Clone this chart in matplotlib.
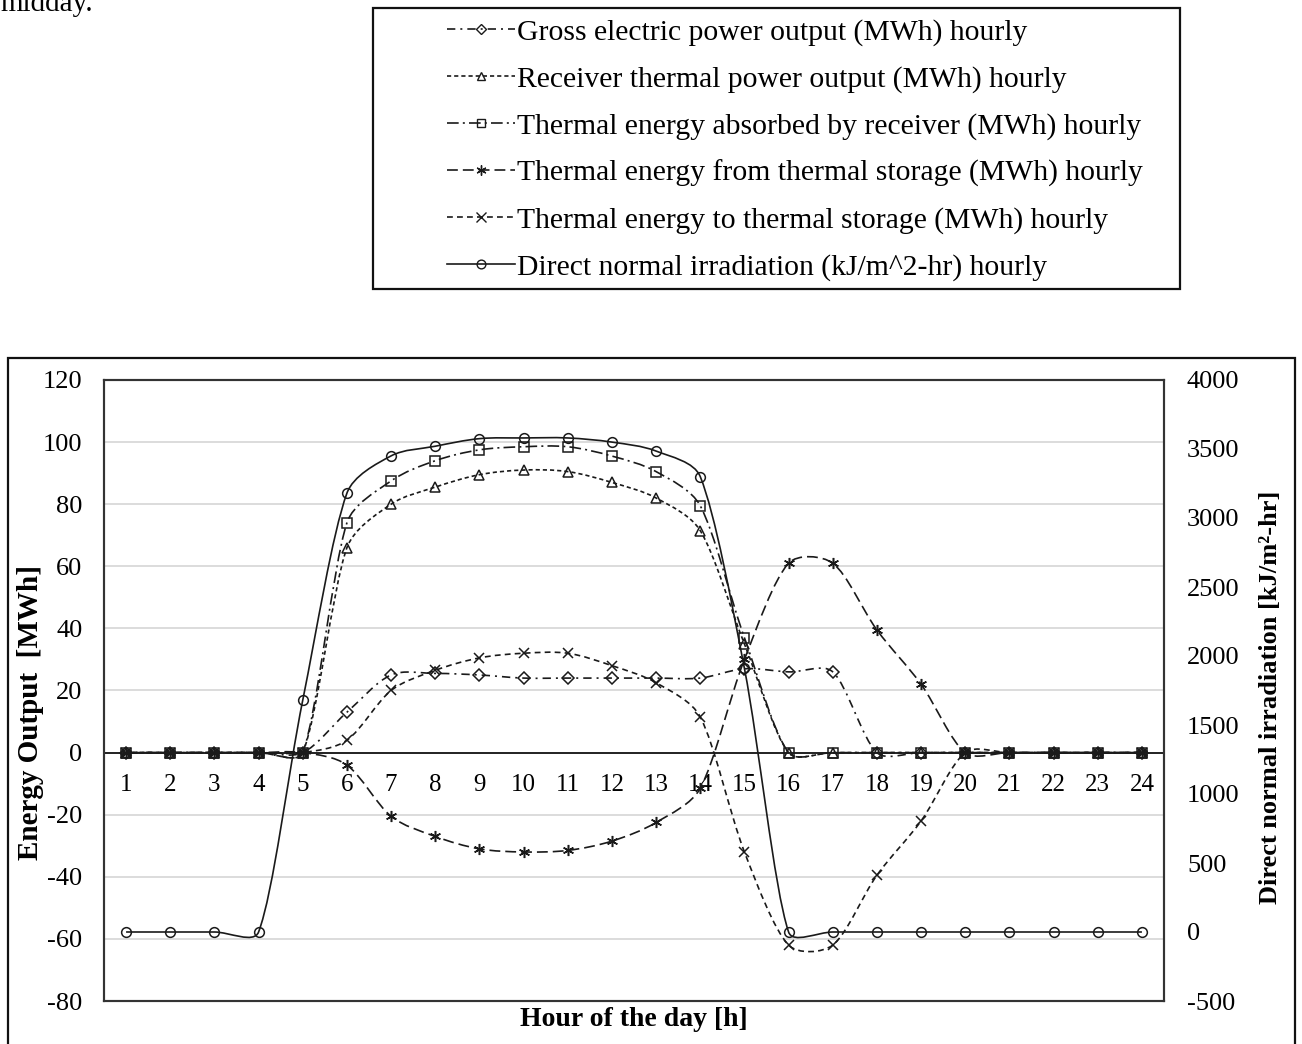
import numpy as np
import matplotlib
matplotlib.use("Agg")
import matplotlib.pyplot as plt
from matplotlib.path import Path
from matplotlib.patches import PathPatch, Rectangle
from matplotlib.lines import Line2D

plt.rcParams['font.family'] = ['Liberation Serif', 'DejaVu Serif']

W, H = 1302, 1044

# hourly values
hours = list(range(1, 25))
gross_electric = [0, 0, 0, 0, 0, 13, 25, 25.5, 25, 24, 24, 24, 24, 24,
                  27, 26, 26, 0, 0, 0, 0, 0, 0, 0]
receiver_thermal = [0, 0, 0, 0, 0, 66, 80, 85.5, 89.5, 91, 90.5, 87, 82, 71.5,
                    35, 0, 0, 0, 0, 0, 0, 0, 0, 0]
absorbed_receiver = [0, 0, 0, 0, 0, 74, 87.5, 94, 97.5, 98.5, 98.5, 95.5, 90.5, 79.5,
                     37, 0, 0, 0, 0, 0, 0, 0, 0, 0]
from_storage = [0, 0, 0, 0, 0, -4, -20.5, -27, -31, -32, -31.5, -28.5, -22.5, -11.5,
                30, 61, 61, 39.5, 22, 0, 0, 0, 0, 0]
to_storage = [0, 0, 0, 0, 0, 4, 20, 26.5, 30.5, 32, 32, 28, 22.5, 11.5,
              -32, -62, -62, -39.5, -22, 0, 0, 0, 0, 0]
dni = [0, 0, 0, 0, 1680, 3180, 3450, 3520, 3575, 3580, 3580, 3550, 3485, 3300,
       1910, 0, 0, 0, 0, 0, 0, 0, 0, 0]

labels = ["Gross electric power output (MWh) hourly",
          "Receiver thermal power output (MWh) hourly",
          "Thermal energy absorbed by receiver (MWh) hourly",
          "Thermal energy from thermal storage (MWh) hourly",
          "Thermal energy to thermal storage (MWh) hourly",
          "Direct normal irradiation (kJ/m^2-hr) hourly"]

left_ticks = list(range(-80, 121, 20))
right_ticks = list(range(-500, 4001, 500))


def smooth_path(axis, xs, ys):
    # Excel-like smoothed line: cubic Bezier through the points,
    # tangents shortened where neighbouring segments are long (screen space)
    pts = np.column_stack([xs, ys]).astype(float)
    scr = axis.transData.transform(pts)
    n = len(pts)
    seg = np.hypot(*np.diff(scr, axis=0).T)
    verts = [pts[0]]
    codes = [Path.MOVETO]
    for i in range(n - 1):
        p0 = pts[max(i - 1, 0)]
        p1, p2 = pts[i], pts[i + 1]
        p3 = pts[min(i + 2, n - 1)]
        d_prev = seg[i - 1] if i > 0 else seg[i]
        d_next = seg[i + 1] if i + 2 < n else seg[i]
        k1 = min(1.0, 2 * seg[i] / (d_prev + seg[i])) if seg[i] > 0 else 0
        k2 = min(1.0, 2 * seg[i] / (seg[i] + d_next)) if seg[i] > 0 else 0
        c1 = p1 + (p2 - p0) / 6 * k1
        c2 = p2 - (p3 - p1) / 6 * k2
        verts += [c1, c2, p2]
        codes += [Path.CURVE4] * 3
    return Path(verts, codes)


fig = plt.figure(figsize=(W / 100, H / 100), dpi=100)

ax = fig.add_axes([104 / W, 1 - 1001 / H, 1060 / W, 621 / H])
ax2 = ax.twinx()
ax.set_xlim(0.5, 24.5)
ax.set_ylim(-80, 120)
ax2.set_ylim(-500, 4000)

ax.set_yticks(left_ticks)
ax.set_yticklabels([str(t) for t in left_ticks], fontsize=19)
ax2.set_yticks(right_ticks)
ax2.set_yticklabels([str(t) for t in right_ticks], fontsize=19)
ax.set_xticks([])
ax.tick_params(axis='y', length=0, pad=15.5)
ax2.tick_params(axis='y', length=0, pad=16.5)
ax.grid(axis='y', color='#d9d9d9', lw=1.3)
ax.set_axisbelow(True)
ax.axhline(0, color='#222222', lw=1.4, zorder=2)
for a in (ax, ax2):
    for s in a.spines.values():
        s.set_color('#333333')
        s.set_linewidth(1.5)

for h in hours:
    ax.annotate(str(h), (h, 0), xytext=(0, -32), textcoords='offset pixels',
                ha='center', va='center', fontsize=18)

series = [
    (ax, gross_electric, 'D', 6.0, (0, (5, 3, 1.2, 3))),
    (ax, receiver_thermal, '^', 6.5, (0, (2.5, 1.8))),
    (ax, absorbed_receiver, 's', 7.0, (0, (7, 2.5, 1.2, 2.5))),
    (ax, from_storage, (6, 2, 0), 8.0, (0, (6.5, 3))),
    (ax, to_storage, 'x', 7.5, (0, (3.5, 2.5))),
    (ax2, dni, 'o', 7.0, 'solid'),
]

col = '#1a1a1a'
handles = []
for a, vals, mk, ms, ls in series:
    a.add_patch(PathPatch(smooth_path(a, hours, vals), fill=False, edgecolor=col,
                          lw=1.2, linestyle=ls, zorder=3))
    a.plot(hours, vals, ls='none', marker=mk, ms=ms, mfc='none', mec=col, mew=1.1,
           zorder=4)
    handles.append(Line2D([], [], color=col, lw=1.2, ls=ls, marker=mk, ms=ms * 0.9,
                          mfc='none', mec=col, mew=1.0))

fig.text(31 / W, 1 - 713 / H, "Energy Output  [MWh]", rotation=90, ha='center',
         va='center', fontsize=21, fontweight='bold')
fig.text(1270 / W, 1 - 697 / H, "Direct normal irradiation [kJ/m\u00b2-hr]",
         rotation=90, ha='center', va='center', fontsize=19, fontweight='bold')
fig.text(634 / W, 1 - 1020 / H, "Hour of the day [h]", ha='center', va='center',
         fontsize=20, fontweight='bold')

# outer chart frame
fig.patches.append(Rectangle((8 / W, 1 - 1060 / H), 1287 / W, 702 / H,
                             transform=fig.transFigure, fill=False,
                             edgecolor='#111111', lw=1.6))

# legend box
fig.patches.append(Rectangle((373 / W, 1 - 289 / H), 807 / W, 281 / H,
                             transform=fig.transFigure, fill=False,
                             edgecolor='#111111', lw=1.6))
fig.legend(handles, labels, loc='upper left', bbox_to_anchor=(447 / W, 1 - 19 / H),
           frameon=False, fontsize=21.3, handlelength=2.3, handletextpad=0.08,
           labelspacing=0.67, borderpad=0, borderaxespad=0)

fig.text(0, 1 - 11 / H, "midday.", ha='left', va='baseline', fontsize=21)

fig.savefig("out.png", dpi=100)
